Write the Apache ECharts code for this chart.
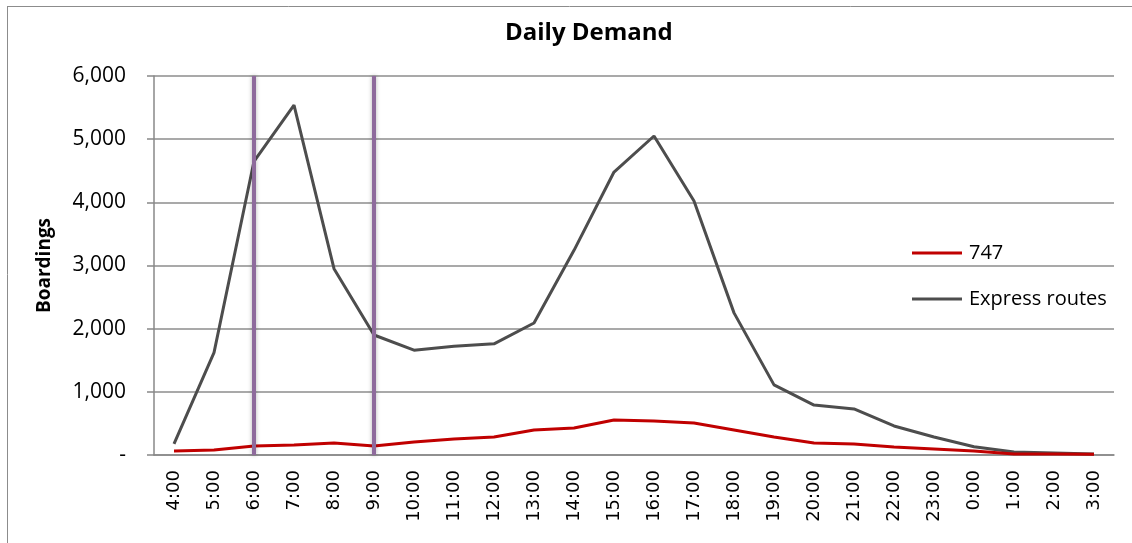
<!DOCTYPE html>
<html>
<head>
<meta charset="utf-8">
<script src="https://cdn.jsdelivr.net/npm/echarts@6/dist/echarts.min.js"></script>
<style>
  html, body { margin: 0; padding: 0; background: #fff; }
  #main { width: 1132px; height: 543px; }
</style>
</head>
<body>
<div id="main"></div>
<script>
// hours on the x axis
const hours = ['4:00', '5:00', '6:00', '7:00', '8:00', '9:00', '10:00', '11:00', '12:00', '13:00', '14:00', '15:00',
  '16:00', '17:00', '18:00', '19:00', '20:00', '21:00', '22:00', '23:00', '0:00', '1:00', '2:00', '3:00'];
// boardings per hour
const route747 = [63, 79, 142, 158, 190, 142, 206, 253, 285, 396, 427, 554, 538, 506, 396, 285, 190, 174, 127, 95, 63, 16, 16, 10];
const expressRoutes = [175, 1620, 4650, 5540, 2950, 1900, 1660, 1720, 1760, 2090, 3240, 4480, 5050, 4020, 2250, 1110, 790, 730, 460, 285, 130, 47, 32, 16];
// peak window markers
const peakMarks = ['6:00', '9:00'];

const chart = echarts.init(document.getElementById('main'));

const option = {
  animation: false,
  title: {
    text: 'Daily Demand',
    left: 505,
    top: 21,
    textStyle: { fontFamily: 'Open Sans', fontWeight: 'bold', fontSize: 24, color: '#000' },
    padding: [0, 0, 0, 0]
  },
  graphic: [
    { type: 'line', shape: { x1: 7, y1: 6.5, x2: 1132, y2: 6.5 }, style: { stroke: '#8c8c8c', lineWidth: 1 } },
    { type: 'line', shape: { x1: 7.5, y1: 6, x2: 7.5, y2: 543 }, style: { stroke: '#8c8c8c', lineWidth: 1 } }
  ],
  legend: {
    orient: 'vertical',
    left: 912,
    top: 242,
    icon: 'rect',
    itemWidth: 50,
    itemHeight: 3,
    itemGap: 24,
    padding: 0,
    textStyle: { fontFamily: 'Open Sans', fontSize: 20, lineHeight: 22, color: '#000', padding: [0, 0, 0, 2] },
    data: ['747', 'Express routes']
  },
  grid: { left: 154, right: 18, top: 76, bottom: 88 },
  xAxis: {
    type: 'category',
    data: hours,
    boundaryGap: true,
    axisLine: { lineStyle: { color: '#888', width: 1.5 } },
    axisTick: { show: false },
    axisLabel: { rotate: 90, margin: 15, fontFamily: 'DejaVu Sans', fontSize: 18, color: '#000', interval: 0 }
  },
  yAxis: {
    type: 'value',
    min: 0,
    max: 6000,
    interval: 1000,
    name: 'Boardings',
    nameLocation: 'middle',
    nameGap: 100,
    nameTextStyle: { fontFamily: 'Open Sans', fontWeight: 'bold', fontSize: 19, color: '#000' },
    axisLine: { show: true, lineStyle: { color: '#888', width: 1.5 } },
    axisTick: { show: true, length: 7, lineStyle: { color: '#888', width: 1.5 } },
    splitLine: { lineStyle: { color: '#8c8c8c', width: 1.5 } },
    axisLabel: {
      margin: 28,
      fontFamily: 'Open Sans',
      fontSize: 21,
      color: '#000',
      formatter: function (v) {
        return v === 0 ? '-' : v.toLocaleString('en-US');
      }
    }
  },
  series: [
    {
      name: '747',
      type: 'line',
      data: route747,
      symbol: 'none',
      lineStyle: { color: '#c00000', width: 3 },
      itemStyle: { color: '#c00000' },
      z: 3
    },
    {
      name: 'Express routes',
      type: 'line',
      data: expressRoutes,
      symbol: 'none',
      lineStyle: { color: '#4d4d4d', width: 3 },
      itemStyle: { color: '#4d4d4d' },
      z: 2,
      markLine: {
        silent: true,
        symbol: 'none',
        label: { show: false },
        lineStyle: {
          color: '#8e6a9c',
          type: 'solid',
          width: 4,
          shadowColor: 'rgba(0,0,0,0.3)',
          shadowBlur: 4
        },
        data: peakMarks.map(function (h) { return { xAxis: h }; })
      }
    }
  ]
};

chart.setOption(option);
</script>
</body>
</html>
